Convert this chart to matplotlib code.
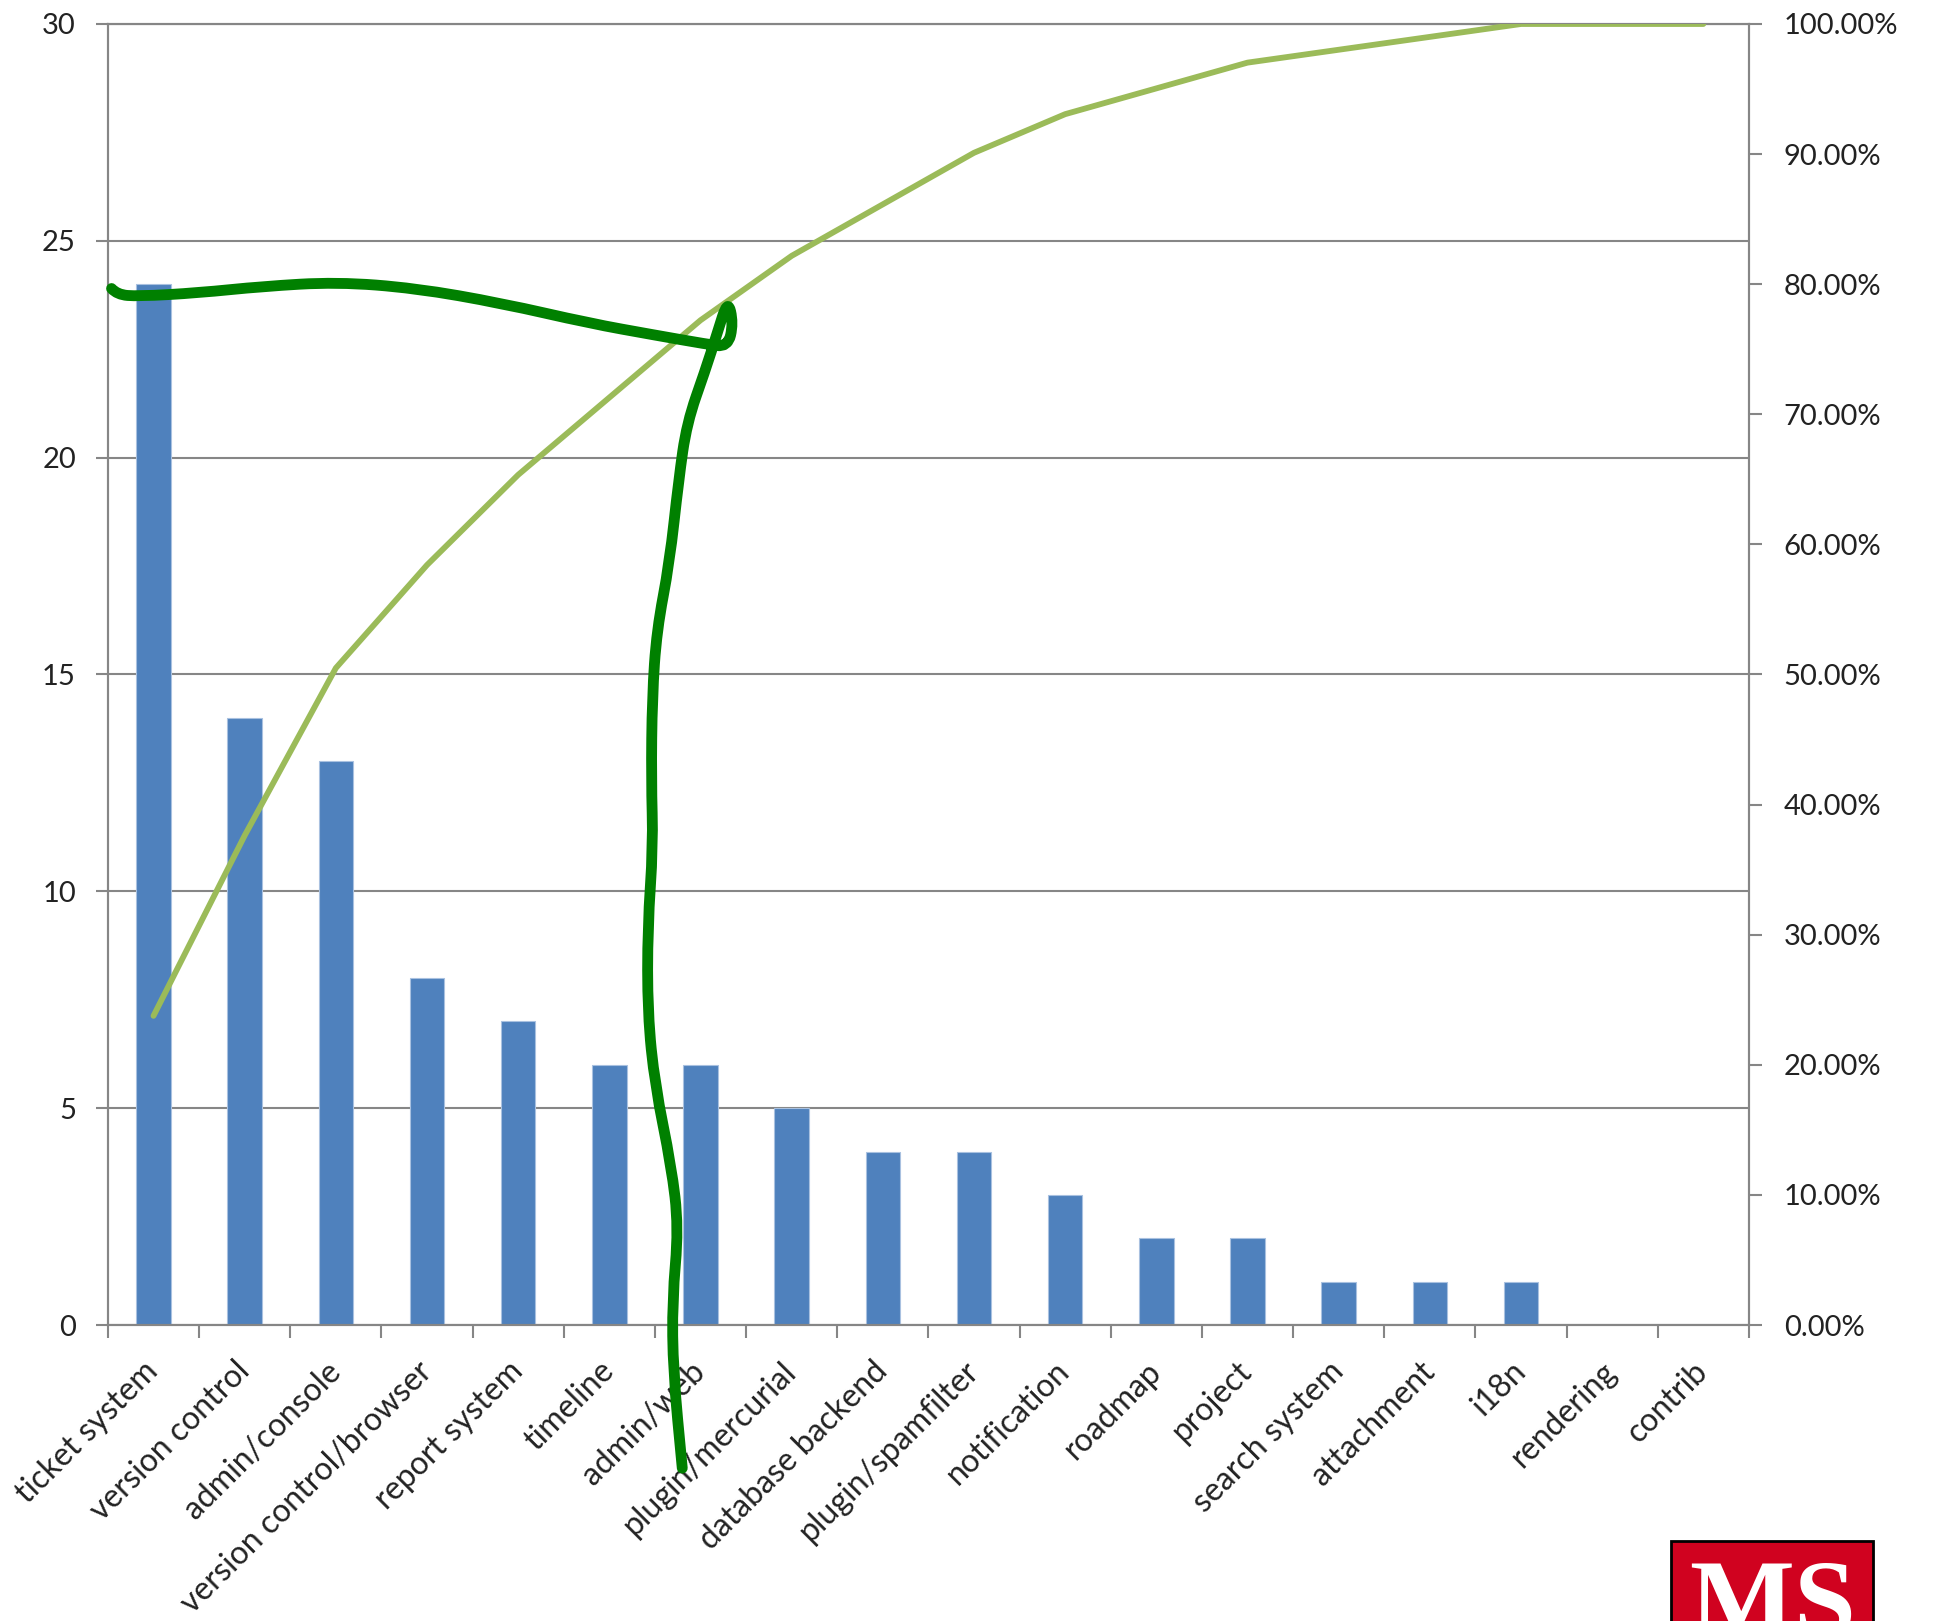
import numpy as np
import matplotlib
matplotlib.use("Agg")
import matplotlib.pyplot as plt
from matplotlib.patches import Rectangle, PathPatch
from matplotlib.path import Path
from matplotlib.ticker import FuncFormatter

plt.rcParams['font.family'] = ['Lato', 'DejaVu Sans']

components = ["ticket system", "version control", "admin/console", "version control/browser",
              "report system", "timeline", "admin/web", "plugin/mercurial", "database backend",
              "plugin/spamfilter", "notification", "roadmap", "project", "search system",
              "attachment", "i18n", "rendering", "contrib"]
tickets = [24, 14, 13, 8, 7, 6, 6, 5, 4, 4, 3, 2, 2, 1, 1, 1, 0, 0]

# hand drawn pen stroke over the chart, in (category index, count) units
pen_x = [-0.46, -0.40, -0.17, 0.49, 1.20, 2.01, 2.87, 3.82, 4.78, 5.49, 6.06, 6.30, 6.36, 6.30,
         6.18, 6.05, 5.85, 5.76, 5.66, 5.52, 5.47, 5.46, 5.48, 5.42, 5.42, 5.50, 5.68,
         5.76, 5.69, 5.70, 5.80]
pen_y = [23.90, 23.76, 23.72, 23.80, 23.95, 24.05, 23.91, 23.56, 23.10, 22.83, 22.62, 22.55, 23.10,
         23.65, 22.85, 22.00, 20.80, 19.48, 17.57, 16.02, 14.48, 12.57, 11.04, 9.18, 7.19,
         5.53, 3.67, 2.24, 0.58, -1.08, -3.30]

counts = np.array(tickets)
cum_pct = np.cumsum(counts) / counts.sum()
x = np.arange(len(components))

grey = '#868686'
txt = '#222222'

fig = plt.figure(figsize=(19.34, 16.21), dpi=100)
ax = fig.add_axes([0.0558, 0.1826, 0.8485, 0.8026])

ax.bar(x, counts, width=0.38, color='#4F81BD', edgecolor='#A9C1E0', linewidth=0.8, zorder=2)
ax.set_xlim(-0.5, len(components) - 0.5)
ax.set_ylim(0, 30)
ax.set_yticks(range(0, 31, 5))
ax.yaxis.grid(True, color=grey, lw=1.5)
ax.set_axisbelow(True)
for s in ax.spines.values():
    s.set_color(grey)
    s.set_linewidth(1.5)

ax.set_xticks(x)
ax.set_xticklabels(components, rotation=45, ha='right', va='center', rotation_mode='anchor')
ax.set_xticks(np.arange(-0.5, len(components), 1), minor=True)
ax.tick_params(axis='x', which='major', length=0, pad=30, labelsize=23, labelcolor=txt)
ax.tick_params(axis='x', which='minor', length=9, width=1.5, color=grey)
ax.tick_params(axis='y', length=9, width=1.5, color=grey, pad=14, labelsize=21, labelcolor=txt)

ax2 = ax.twinx()
ax2.plot(x, cum_pct, color='#9BBB59', lw=4.2, solid_capstyle='round', zorder=3)
ax2.set_ylim(0, 1)
ax2.set_yticks(np.arange(0, 1.01, 0.1))
ax2.yaxis.set_major_formatter(FuncFormatter(lambda v, p: "%.2f%%" % (v * 100)))
ax2.tick_params(axis='y', length=9, width=1.5, color=grey, pad=16, labelsize=21, labelcolor=txt)
for s in ax2.spines.values():
    s.set_color(grey)
    s.set_linewidth(1.5)

# smooth the pen stroke with quadratic curves through the midpoints
pts = list(zip(pen_x, pen_y))
verts = [pts[0]]
codes = [Path.MOVETO]
for i in range(1, len(pts) - 1):
    mid = ((pts[i][0] + pts[i + 1][0]) / 2, (pts[i][1] + pts[i + 1][1]) / 2)
    verts += [pts[i], mid]
    codes += [Path.CURVE3, Path.CURVE3]
verts.append(pts[-1])
codes.append(Path.LINETO)
pen = PathPatch(Path(verts, codes), fill=False, edgecolor='#008000', lw=7.8,
                capstyle='round', joinstyle='round', transform=ax.transData,
                clip_on=False, zorder=10)
ax2.add_patch(pen)

# MS logo in the corner
fig.patches.append(Rectangle((0.864, -0.05), 0.1045, 0.0994, transform=fig.transFigure,
                             facecolor='#D0021F', edgecolor='black', lw=2))
fig.text(0.9165, -0.009, "MS", ha='center', va='baseline', color='white', fontsize=80,
         family='Liberation Serif', fontweight='bold')

fig.savefig("out.png", dpi=100)
